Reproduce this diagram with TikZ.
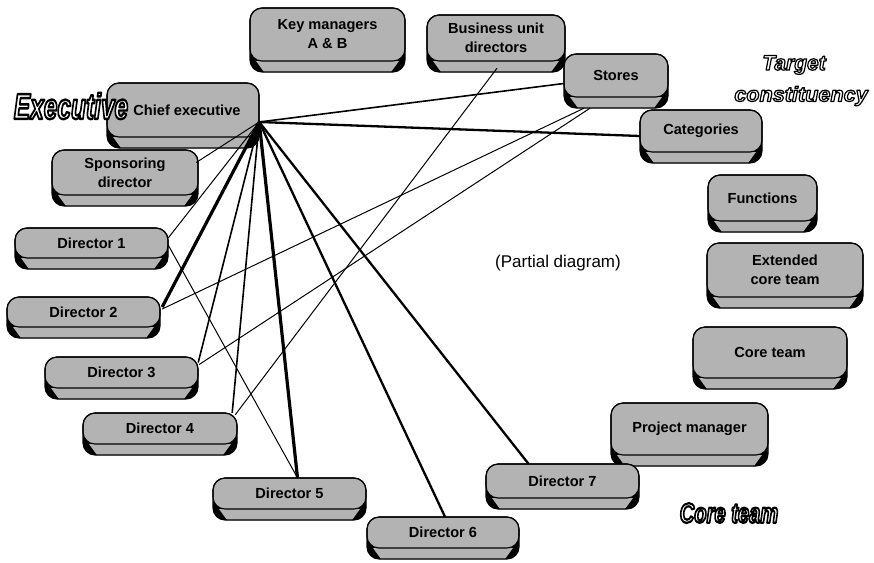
\documentclass[tikz,border=0pt]{standalone}
\usepackage{fontspec}
\setmainfont{Liberation Sans}
\usetikzlibrary{calc}

\definecolor{boxgray}{RGB}{179,179,179}

\tikzset{
  boxtext/.style={inner sep=0pt, align=center, font=\fontsize{14.6}{19}\selectfont\bfseries},
  titletext/.style={inner sep=0pt},
  thinlink/.style={line width=1pt},
  midlink/.style={line width=1.6pt},
  thicklink/.style={line width=2.3pt},
  heavylink/.style={line width=3.2pt},
}

% A raised pill: rounded top face over a darker slab.
% #1 name, #2 left, #3 top, #4 right, #5 bottom of top face, #6 label
\newcommand\pillbox[6]{%
  \fill[black, rounded corners=12pt] (#2,#3) rectangle (#4,#5+11);
  \fill[boxgray] (#2+6,#5) -- (#4-6,#5) -- (#4-14,#5+11) -- (#2+14,#5+11) -- cycle;
  \filldraw[fill=boxgray, draw=black, line width=1.1pt, rounded corners=12pt] (#2,#3) rectangle (#4,#5);
  \draw[line width=1.1pt, rounded corners=12pt] (#2,#3) rectangle (#4,#5+11);
  \node[boxtext, minimum width={(#4-#2)*1pt}, minimum height={(#5-#3)*1pt}]
    (#1) at ({(#2+#4)/2},{(#3+#5)/2}) {#6};
}

% Hollow lettering: white fill, black stroke (PDF text render mode 2)
\newcommand\hollowtitle[4]{% x-scale, size, stroke width, text
  {\fontsize{#2}{#2}\selectfont\bfseries\itshape\color{white}%
   \special{pdf:literal direct 0 G #3 w 1 j 2 Tr}%
   \scalebox{#1}[1]{#4}%
   \special{pdf:literal direct 0 Tr 0.4 w 0 j}}%
}

\begin{document}
\begin{tikzpicture}[x=1pt, y=-1pt]
\useasboundingbox (0,0) rectangle (874,562);

% ---- boxes ----
\pillbox{km}{250}{8}{405}{61}{Key managers\\A \& B}
\pillbox{bu}{427}{15}{565}{61}{Business unit\\directors}
\pillbox{st}{564}{54}{668}{97}{Stores}
\pillbox{ca}{640}{110}{762}{152}{Categories}
\pillbox{ce}{107}{83}{259}{137}{\hspace*{8pt}Chief executive}
\pillbox{sp}{52}{150}{198}{195}{Sponsoring\\director}
\pillbox{fn}{708}{175}{817}{221}{Functions}
\pillbox{ect}{707}{243}{863}{297}{Extended\\core team}
\pillbox{d1}{15}{228}{168}{258}{Director 1}
\pillbox{d2}{7}{297}{160}{327}{Director 2}
\pillbox{ct}{693}{327}{847}{378}{Core team}
\pillbox{d3}{45}{357}{198}{388}{Director 3}
\pillbox{pm}{611}{403}{768}{455}{Project manager}
\pillbox{d4}{83}{413}{237}{444}{Director 4}
\pillbox{d7}{486}{464}{639}{498}{Director 7}
\pillbox{d5}{213}{478}{366}{509}{Director 5}
\pillbox{d6}{367}{517}{519}{548}{Director 6}

\node[inner sep=0pt, font=\fontsize{17}{20}\selectfont] (note) at (558,263) {(Partial diagram)};

% ---- links ----
\coordinate (hub) at ($(ce.east)+(0,12)$);
\draw[midlink] (hub) -- ($(st.west)+(0,8)$);
\draw[thicklink] (hub) -- ($(ca.west)+(0,5)$);
\draw[thinlink] (hub) -- ($(sp.east)+(-2,-10)$);
\draw[thinlink] (hub) -- ($(d1.east)+(0,-5)$);
\draw[heavylink] (hub) -- ($(d2.east)+(2,-5)$);
\draw[midlink] (hub) -- ($(d3.east)+(0,-10)$);
\draw[midlink] (hub) -- ($(d4.north east)+(-5,0)$);
\draw[heavylink] (hub) -- ($(d5.north)+(8,0)$);
\draw[thicklink] (hub) -- ($(d6.north)+(2,0)$);
\draw[thicklink] (hub) -- ($(d7.north)+(-34,0)$);

\draw[thinlink] ($(d1.east)+(0,2)$) -- ($(d5.north)+(8,0)$);
\draw[thinlink] ($(d2.east)+(2,-3)$) -- ($(st.south)+(-32,11)$);
\draw[thinlink] ($(d3.east)+(1,-8)$) -- ($(st.south)+(-26,11)$);
\draw[thinlink] ($(d4.north east)+(-2,2)$) -- ($(bu.south)+(1,7)$);

% ---- group titles (drawn last: they change the PDF text state) ----
\node[titletext] (exec) at (71,106) {\hollowtitle{0.68}{36}{2.4}{Executive}};
\node[titletext] (tgt1) at (794,65) {\hollowtitle{1.0}{21}{1.2}{Target}};
\node[titletext] (tgt2) at (801,96) {\hollowtitle{1.03}{21}{1.2}{constituency}};
\node[titletext] (core) at (729,513) {\hollowtitle{0.72}{28}{2.2}{Core team}};
\end{tikzpicture}
\end{document}
